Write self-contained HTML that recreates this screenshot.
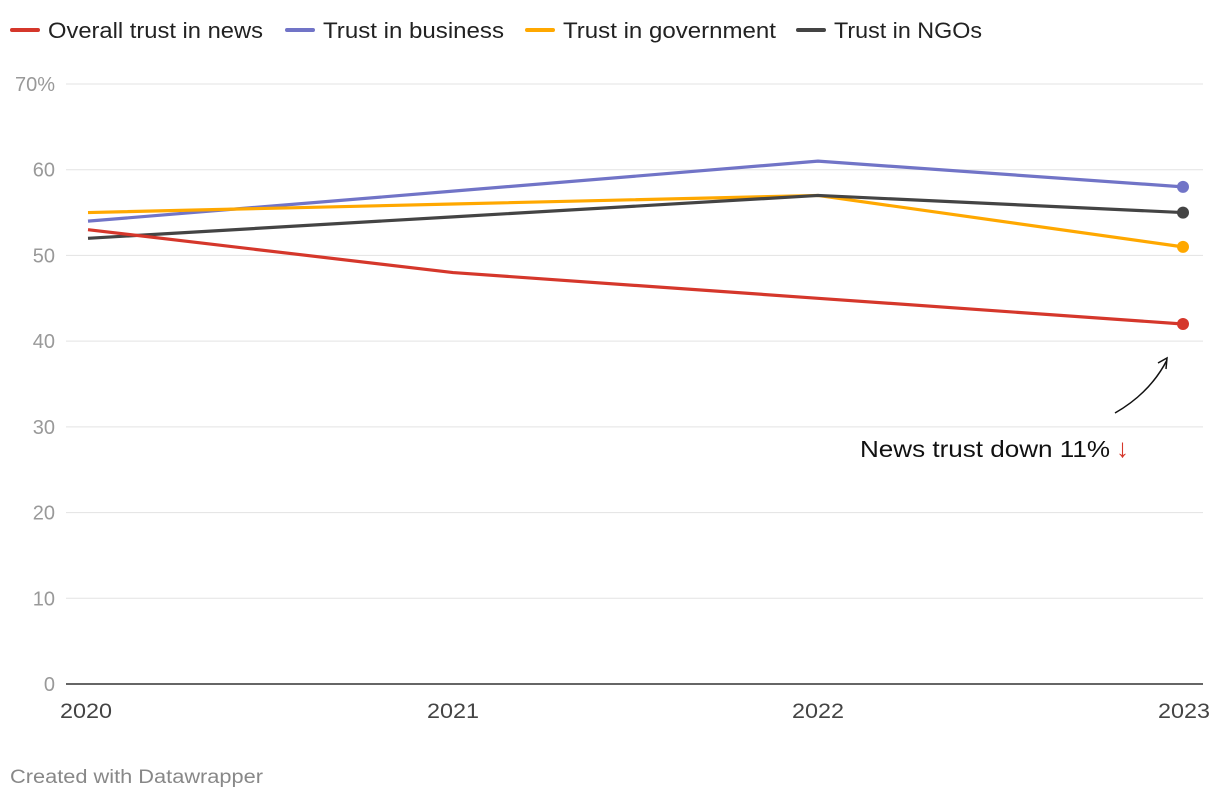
<!DOCTYPE html>
<html><head><meta charset="utf-8">
<style>
body{margin:0;background:#fff;font-family:"Liberation Sans",sans-serif;}
#wrap{position:relative;width:1220px;height:800px;overflow:hidden;}
</style></head>
<body>
<div id="wrap">
<svg id="chart" width="1220" height="800"></svg>
</div>
<script>
const years = [2020, 2021, 2022, 2023];
const newsTrust = [53, 48, 45, 42];
const businessTrust = [54, 57.5, 61, 58];
const govTrust = [55, 56, 57, 51];
const ngoTrust = [52, 54.5, 57, 55];
const yTicks = [0, 10, 20, 30, 40, 50, 60, 70];
const yTickLabels = ["0", "10", "20", "30", "40", "50", "60", "70%"];

const NS = "http://www.w3.org/2000/svg";
const svg = document.getElementById('chart');
const x = i => 88 + (1183 - 88) * (years[i] - years[0]) / (years[years.length-1] - years[0]);
const y = v => 684 - v * 600 / 70;
function el(tag, attrs, parent) {
  const e = document.createElementNS(NS, tag);
  for (const k in attrs) e.setAttribute(k, attrs[k]);
  (parent || svg).appendChild(e);
  return e;
}

// legend
const legend = [["Overall trust in news", "#d5372b", 12, 215], ["Trust in business", "#7174c7", 287, 181], ["Trust in government", "#ffa800", 527, 213], ["Trust in NGOs", "#444", 798, 148]];
legend.forEach(l => {
  const g = el('g', {});
  
  
  el('line', {x1: l[2], x2: l[2] + 26, y1: 30, y2: 30, stroke: l[1], 'stroke-width': 4, 'stroke-linecap': 'round'}, g);
  const t = el('text', {x: l[2] + 36, y: 38, 'font-size': 22, fill: '#222', textLength: l[3], lengthAdjust: 'spacingAndGlyphs'}, g);
  t.textContent = l[0];
});

// grid and y ticks
yTicks.forEach((v, i) => {
  const ln = el('line', {x1: 66, x2: 1203, y1: y(v), y2: y(v), stroke: v === 0 ? '#333' : '#e3e3e3', 'stroke-width': v === 0 ? 1.5 : 1});
  
  
  const t = el('text', {x: 55, y: y(v) + 7, 'font-size': 20, fill: '#999', 'text-anchor': 'end'});
  
  
  t.textContent = yTickLabels[i];
});

// x ticks
years.forEach((yr, i) => {
  const anchor = i === 0 ? 'start' : (i === years.length - 1 ? 'end' : 'middle');
  const xx = i === 0 ? 60 : (i === years.length - 1 ? 1210 : x(i));
  const t = el('text', {x: xx, y: 718, 'font-size': 21, fill: '#444', 'text-anchor': anchor, textLength: 52, lengthAdjust: 'spacingAndGlyphs'});
  
  
  t.textContent = yr;
});

// series
const series = [[businessTrust, "#7174c7", "business-line"], [govTrust, "#ffa800", "government-line"], [ngoTrust, "#444", "ngo-line"], [newsTrust, "#d5372b", "news-line"]];
series.forEach(s => {
  const d = s[0].map((v, i) => (i ? 'L' : 'M') + x(i) + ',' + y(v)).join(' ');
  const p = el('path', {d: d, fill: 'none', stroke: s[1], 'stroke-width': 3.2, 'stroke-linejoin': 'round'});
  
  
  const n = s[0].length - 1;
  const c = el('circle', {cx: x(n), cy: y(s[0][n]), r: 6, fill: s[1]});
  
  
});

// annotation
const ann = el('path', {d: 'M1115,413 Q1150,393 1167,360', fill: 'none', stroke: '#111', 'stroke-width': 1.5});


const ah = el('path', {d: 'M1158,363 L1167,358 L1166,369', fill: 'none', stroke: '#111', 'stroke-width': 1.5});


const at = el('text', {x: 860, y: 457, 'font-size': 23, fill: '#111', textLength: 250, lengthAdjust: 'spacingAndGlyphs'});


at.textContent = 'News trust down 11%';
const arr = el('text', {x: 1116, y: 457, 'font-size': 26, fill: '#d5372b'});


arr.textContent = '↓';

const ft = el('text', {x: 10, y: 783, 'font-size': 19, fill: '#888', textLength: 253, lengthAdjust: 'spacingAndGlyphs'});


ft.textContent = 'Created with Datawrapper';
</script>
</body></html>
